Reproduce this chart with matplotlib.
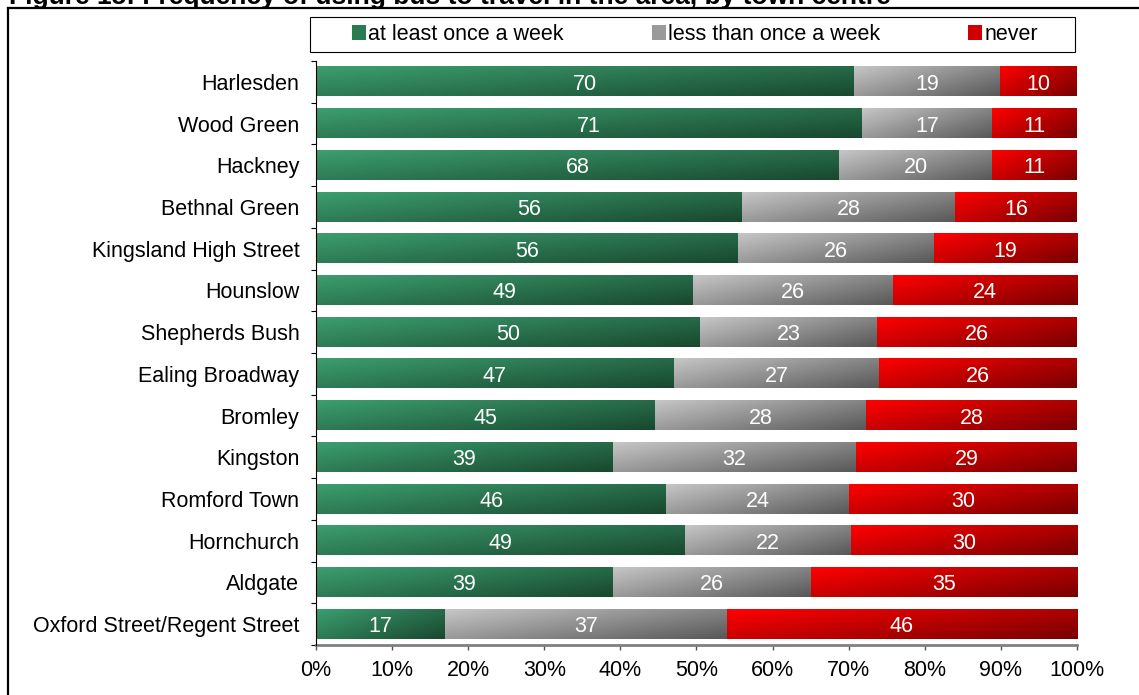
import numpy as np
import matplotlib
matplotlib.use("Agg")
import matplotlib.pyplot as plt
from matplotlib.patches import Patch, Rectangle
from matplotlib.lines import Line2D

plt.rcParams["font.family"] = ["Liberation Sans", "DejaVu Sans"]

# ── DATA ──────────────────────────────────────────────────────────────────────

TITLE = "Figure 15: Frequency of using bus to travel in the area, by town centre"

TOWNS = [
    "Harlesden", "Wood Green", "Hackney", "Bethnal Green",
    "Kingsland High Street", "Hounslow", "Shepherds Bush", "Ealing Broadway",
    "Bromley", "Kingston", "Romford Town", "Hornchurch", "Aldgate",
    "Oxford Street/Regent Street",
]
WEEKLY = [70, 71, 68, 56, 56, 49, 50, 47, 45, 39, 46, 49, 39, 17]
LESS_OFTEN = [19, 17, 20, 28, 26, 26, 23, 27, 28, 32, 24, 22, 26, 37]
NEVER = [10, 11, 11, 16, 19, 24, 26, 26, 28, 29, 30, 30, 35, 46]

SERIES_NAMES = ["at least once a week", "less than once a week", "never"]
X_TICKS = [0, 10, 20, 30, 40, 50, 60, 70, 80, 90, 100]

# gradient end points per series: (top-left light, bottom-right dark)
GRADIENTS = [
    ("#3c9e6e", "#18482f"),
    ("#c6c6c6", "#585858"),
    ("#ff0000", "#780000"),
]
LEGEND_COLORS = ["#2a7a52", "#9a9a9a", "#d00000"]

W, H = 1139, 695
FS = 15.5


def fx(px):
    return px / W


def fy(py):
    return 1 - py / H


def hex_rgb(c):
    c = c.lstrip("#")
    return np.array([int(c[i:i + 2], 16) / 255 for i in (0, 2, 4)])


def gradient_img(light, dark, w=128, h=24):
    u = np.linspace(0, 1, w)[None, :]
    v = np.linspace(0, 1, h)[:, None]
    t = 0.6 * u + 0.4 * v
    a, b = hex_rgb(light), hex_rgb(dark)
    return a + (b - a) * t[..., None]


# ── PLOT ──────────────────────────────────────────────────────────────────────

fig = plt.figure(figsize=(W / 100, H / 100), dpi=100)
ax = fig.add_axes([fx(316), fy(645), fx(1077) - fx(316), (645 - 61) / H])

n = len(TOWNS)
ypos = np.arange(n)[::-1]
values = np.array([WEEKLY, LESS_OFTEN, NEVER], dtype=float).T
shares = values / values.sum(axis=1, keepdims=True) * 100
bar_h = 0.7

lefts = np.zeros(n)
for j in range(3):
    bars = ax.barh(ypos, shares[:, j], left=lefts, height=bar_h,
                   color=LEGEND_COLORS[j], zorder=2)
    img = gradient_img(*GRADIENTS[j])
    for i, bar in enumerate(bars):
        x0, y0 = bar.get_x(), bar.get_y()
        bw, bh = bar.get_width(), bar.get_height()
        ax.imshow(img, extent=(x0, x0 + bw, y0, y0 + bh), origin="upper",
                  aspect="auto", interpolation="bilinear", zorder=3)
        ax.text(x0 + bw / 2, y0 + bh / 2, f"{values[i, j]:.0f}",
                ha="center", va="center_baseline", color="white",
                fontsize=FS, zorder=4)
    lefts += shares[:, j]

ax.set_xlim(0, 100)
ax.set_ylim(-0.5, n - 0.5)

ax.set_yticks(ypos, TOWNS)
ax.set_yticks(np.arange(n + 1) - 0.5, minor=True)
ax.tick_params(axis="y", which="major", length=0, pad=12, labelsize=FS)
ax.tick_params(axis="y", which="minor", length=3.6, width=0.8, color="black")

ax.set_xticks(X_TICKS, [f"{t}%" for t in X_TICKS])
ax.tick_params(axis="x", length=3.6, width=1, color="#555555", pad=7,
               labelsize=FS)

for side in ("top", "right"):
    ax.spines[side].set_visible(False)
ax.spines["left"].set_color("black")
ax.spines["left"].set_linewidth(0.8)
ax.spines["bottom"].set_color("#808080")
ax.spines["bottom"].set_linewidth(2)
ax.spines["left"].set_zorder(5)

# legend, in its own box above the bars
handles = [Patch(facecolor=c, edgecolor="none") for c in LEGEND_COLORS]
fig.legend(handles, SERIES_NAMES, loc="center", ncol=3, frameon=False,
           bbox_to_anchor=(fx(695), fy(34.5)), fontsize=FS,
           handlelength=0.65, handleheight=0.65, handletextpad=0.1,
           columnspacing=4.1)
fig.add_artist(Rectangle((fx(310), fy(52)), fx(1075) - fx(310), 35 / H,
                         transform=fig.transFigure, fill=False,
                         edgecolor="black", linewidth=0.8))

# outer frame of the report figure (title sits above it, cut off)
fig.add_artist(Line2D([fx(8), 1], [fy(8), fy(8)], color="black", lw=1.6,
                      transform=fig.transFigure))
fig.add_artist(Line2D([fx(8), fx(8)], [fy(8), 0], color="black", lw=1.6,
                      transform=fig.transFigure))
fig.text(fx(9), fy(4), TITLE, fontsize=19, fontweight="bold",
         ha="left", va="baseline")

fig.savefig("out.png", dpi=100)
